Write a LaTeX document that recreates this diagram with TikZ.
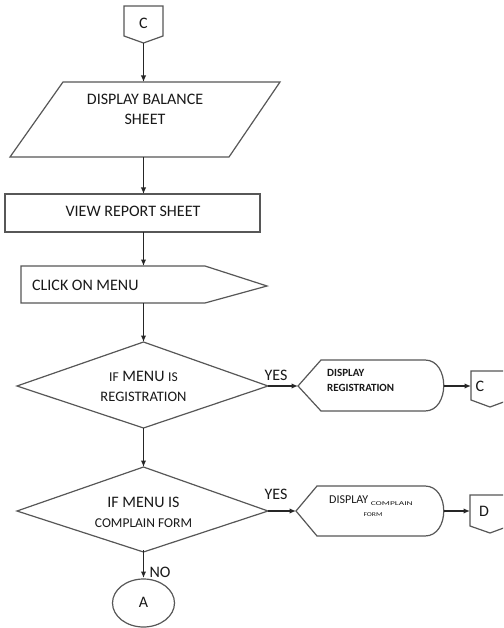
\documentclass[tikz,border=0pt]{standalone}
\usepackage{fontspec}
\usepackage{graphicx}
\setmainfont{Carlito}
\usetikzlibrary{arrows.meta}
\begin{document}
\begin{tikzpicture}[x=1pt,y=-1pt,
  shp/.style={draw=black!66,line width=1.2pt,fill=white,line join=miter},
  flow/.style={draw=black!85,line width=1.5pt,-{Latex[length=6.5pt,width=5.5pt]}},
  lbl/.style={inner sep=0pt,text=black!90,font=\fontsize{16}{20}\selectfont,align=center},
  small/.style={inner sep=0pt,text=black!90}]
\clip (0,0) rectangle (503,628);
\fill[white] (0,0) rectangle (503,628);

% off-page connector C at the top
\draw[shp] (124,6) -- (163,6) -- (163,36) -- (143.5,43) -- (124,36) -- cycle;
\node[lbl] (conC) at (143.5,23.5) {C};
\coordinate (conC-s) at (143.5,43);

% input/output: display balance sheet
\draw[shp] (63,82) -- (280,82) -- (229,157) -- (10,157) -- cycle;
\node[lbl] (balance) at (145,109) {DISPLAY BALANCE\\SHEET};
\coordinate (balance-n) at (143.5,82);
\coordinate (balance-s) at (143.5,157);

% process: view report sheet
\draw[shp] (5,194) rectangle (260,232);
\node[lbl] (report) at (133,211) {VIEW REPORT SHEET};
\coordinate (report-n) at (143.5,194);
\coordinate (report-s) at (143.5,232);

% menu click
\draw[shp] (21,266) -- (205,266) -- (267,286) -- (205,303) -- (21,303) -- cycle;
\node[lbl,anchor=west] (menu) at (32,285) {CLICK ON MENU};
\coordinate (menu-n) at (143.5,266);
\coordinate (menu-s) at (143.5,303);

% decision 1
\draw[shp] (143.5,342) -- (268,386) -- (143.5,428) -- (17,386) -- cycle;
\node[lbl] (dec1) at (143.5,386)
  {{\fontsize{13.5}{20}\selectfont IF} MENU {\fontsize{13.5}{20}\selectfont IS}\\
   {\fontsize{14.5}{20}\selectfont REGISTRATION}};
\coordinate (dec1-n) at (143.5,342);
\coordinate (dec1-s) at (143.5,428);
\coordinate (dec1-e) at (268,386);
\node[lbl] (yes1) at (276,375) {YES};

% display registration
\draw[shp] (298,386) -- (321,360) -- (425,360)
  .. controls (450,360) and (450,411) .. (425,411) -- (321,411) -- cycle;
\node[small,anchor=west,align=left,font=\bfseries\fontsize{11}{15}\selectfont]
  (disp1) at (327,380.5) {DISPLAY\\REGISTRATION};
\coordinate (disp1-w) at (298,386);
\coordinate (disp1-e) at (443.75,386);

% off-page connector C on the right
\draw[shp] (471,371) -- (509,371) -- (509,400) -- (490,407) -- (471,400) -- cycle;
\node[lbl] (conC2) at (480,386) {C};
\coordinate (conC2-w) at (471,386);

% decision 2
\draw[shp] (143.5,467) -- (268,511) -- (143.5,552) -- (17,511) -- cycle;
\node[lbl] (dec2) at (143.5,512)
  {IF MENU IS\\{\fontsize{13.5}{20}\selectfont COMPLAIN FORM}};
\coordinate (dec2-n) at (143.5,467);
\coordinate (dec2-s) at (143.5,550);
\coordinate (dec2-e) at (268,511);
\node[lbl] (yes2) at (276,494) {YES};
\node[lbl] (no) at (160,572) {NO};

% display complain form
\draw[shp] (296,511) -- (317,486) -- (425,486)
  .. controls (450,486) and (450,536) .. (425,536) -- (317,536) -- cycle;
\node[small,anchor=base west,font=\fontsize{12}{14}\selectfont]
  (disp2a) at (329,503.5) {DISPLAY\hspace{2.5pt}\raisebox{-2pt}{\resizebox{42pt}{3.8pt}{COMPLAIN}}};
\node[small,anchor=base] (disp2b) at (373,516) {\resizebox{19pt}{3.8pt}{FORM}};
\coordinate (disp2-w) at (296,511);
\coordinate (disp2-e) at (443.75,511);

% off-page connector D
\draw[shp] (470,495) -- (509,495) -- (509,526) -- (490,533) -- (470,526) -- cycle;
\node[lbl] (conD) at (484,511) {D};
\coordinate (conD-w) at (470,511);

% on-page connector A
\draw[shp] (143.5,603) ellipse [x radius=31, y radius=24];
\node[lbl] (endA) at (143.5,602) {A};
\coordinate (endA-n) at (143.5,578);

% flow lines
\draw[flow] (conC-s) -- (balance-n);
\draw[flow] (balance-s) -- (report-n);
\draw[flow] (report-s) -- (menu-n);
\draw[flow] (menu-s) -- (dec1-n);
\draw[flow] (dec1-s) -- (dec2-n);
\draw[flow] (dec1-e) -- (disp1-w);
\draw[flow] (disp1-e) -- (conC2-w);
\draw[flow] (dec2-e) -- (disp2-w);
\draw[flow] (disp2-e) -- (conD-w);
\draw[flow] (dec2-s) -- (endA-n);
\end{tikzpicture}
\end{document}
